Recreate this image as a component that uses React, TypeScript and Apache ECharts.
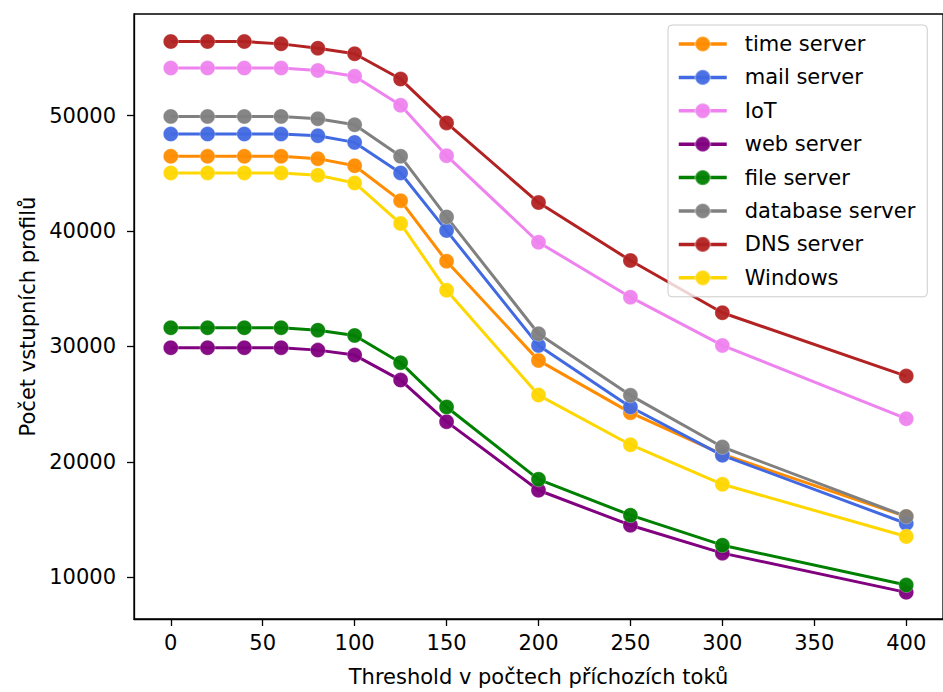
import React, { useEffect, useRef } from "react";
import * as echarts from "echarts";

const thresholds = [0, 20, 40, 60, 80, 100, 125, 150, 200, 250, 300, 400];
const xTicks = [0, 50, 100, 150, 200, 250, 300, 350, 400];
const yTicks = [10000, 20000, 30000, 40000, 50000];

const timeServer = [46480, 46480, 46480, 46480, 46280, 45670, 42640, 37390, 28790, 24260, 20650, 15250];
const mailServer = [48410, 48410, 48410, 48410, 48270, 47690, 45040, 40040, 30090, 24750, 20560, 14650];
const iot = [54130, 54130, 54130, 54130, 53930, 53420, 50900, 46540, 39030, 34270, 30090, 23740];
const webServer = [29890, 29890, 29890, 29890, 29680, 29250, 27080, 23480, 17530, 14500, 12080, 8680];
const fileServer = [31620, 31620, 31620, 31620, 31410, 30950, 28590, 24750, 18480, 15370, 12770, 9310];
const databaseServer = [49940, 49940, 49940, 49940, 49740, 49220, 46480, 41230, 31100, 25760, 21280, 15260];
const dnsServer = [56430, 56430, 56430, 56230, 55860, 55370, 53180, 49380, 42470, 37450, 32920, 27430];
const windows = [45040, 45040, 45040, 45040, 44840, 44170, 40650, 34880, 25780, 21480, 18050, 13520];

const seriesNames = [
  "time server",
  "mail server",
  "IoT",
  "web server",
  "file server",
  "database server",
  "DNS server",
  "Windows",
];
const seriesValues = [timeServer, mailServer, iot, webServer, fileServer, databaseServer, dnsServer, windows];
const seriesColors = ["#FF8C00", "#4169E1", "#EE82EE", "#800080", "#008000", "#808080", "#B22222", "#FFD700"];

const FONT = "DejaVu Sans";

export default function App() {
  const ref = useRef<HTMLDivElement>(null);
  useEffect(() => {
    if (!ref.current) return;
    const chart = echarts.init(ref.current, undefined, { renderer: "svg" });
    const series = seriesNames.map((name, i) => ({
      name,
      type: "line",
      data: thresholds.map((x, j) => [x, seriesValues[i][j]]),
      symbol: "circle",
      symbolSize: 15,
      showSymbol: true,
      lineStyle: { color: seriesColors[i], width: 3 },
      itemStyle: {
        color: seriesColors[i],
        borderColor: "rgba(255,255,255,0.3)",
        borderWidth: 1,
        opacity: 0.95,
      },
      emphasis: { disabled: true },
    }));
    chart.setOption({
      animation: false,
      backgroundColor: "#ffffff",
      grid: {
        left: 134,
        right: -3,
        top: 14,
        bottom: 72,
        show: true,
        borderColor: "#000000",
        borderWidth: 1.3,
        backgroundColor: "transparent",
      },
      legend: {
        show: true,
        orient: "vertical",
        left: 668,
        top: 25,
        padding: [7, 12, 7, 9],
        itemWidth: 48,
        itemHeight: 19,
        itemGap: 9.4,
        backgroundColor: "rgba(255,255,255,0.8)",
        borderColor: "#cccccc",
        borderWidth: 1,
        borderRadius: 4,
        lineStyle: { width: 3.5 },
        textStyle: {
          fontFamily: FONT,
          fontSize: 21,
          color: "#000000",
          lineHeight: 24,
          padding: [0, 0, 0, 13],
        },
        data: seriesNames,
      },
      xAxis: {
        type: "value",
        min: -20,
        max: 420,
        name: "Threshold v počtech příchozích toků",
        nameLocation: "middle",
        nameGap: 47,
        nameTextStyle: { fontFamily: FONT, fontSize: 21, color: "#000000" },
        axisLine: { show: true, onZero: false, lineStyle: { color: "#000000", width: 1.3 } },
        axisTick: {
          show: true,
          length: 7,
          lineStyle: { color: "#000000", width: 1.3 },
          customValues: xTicks,
        },
        axisLabel: {
          fontFamily: FONT,
          fontSize: 21,
          color: "#000000",
          margin: 13,
          customValues: xTicks,
          formatter: (v: number) => String(v),
        },
        splitLine: { show: false },
      },
      yAxis: {
        type: "value",
        min: 6370,
        max: 58820,
        name: "Počet vstupních profilů",
        nameLocation: "middle",
        nameGap: 91,
        nameRotate: 90,
        nameTextStyle: { fontFamily: FONT, fontSize: 21, color: "#000000" },
        axisLine: { show: true, onZero: false, lineStyle: { color: "#000000", width: 1.3 } },
        axisTick: {
          show: true,
          length: 7,
          lineStyle: { color: "#000000", width: 1.3 },
          customValues: yTicks,
        },
        axisLabel: {
          fontFamily: FONT,
          fontSize: 21,
          color: "#000000",
          margin: 18,
          customValues: yTicks,
          formatter: (v: number) => String(v),
        },
        splitLine: { show: false },
      },
      series,
    });
    return () => chart.dispose();
  }, []);
  return (
    <div
      ref={ref}
      style={{ position: "fixed", left: 0, top: 0, width: 943, height: 692, background: "#ffffff" }}
    />
  );
}
